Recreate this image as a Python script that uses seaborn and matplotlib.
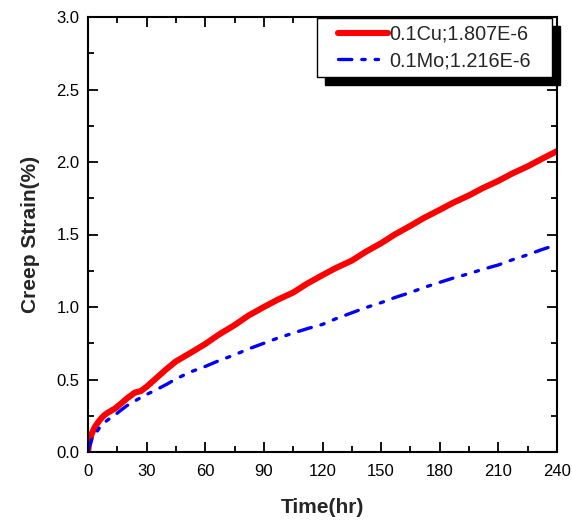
import numpy as np
import pandas as pd
import matplotlib
matplotlib.use("Agg")
import matplotlib.pyplot as plt
import seaborn as sns
from matplotlib.ticker import MultipleLocator
from matplotlib.lines import Line2D
from matplotlib.legend_handler import HandlerLine2D

cu_time = [0, 0.5, 1, 2, 3.6, 6, 8, 10, 13.8, 17, 20, 24, 27, 30, 35, 40, 45, 52, 60, 67, 75, 82, 90,
           97, 105, 112, 120, 127, 135, 142, 150, 157, 165, 172, 180, 187, 195, 202, 210, 217, 225, 232, 240]
cu_strain = [0, 0.05, 0.08, 0.13, 0.175, 0.22, 0.25, 0.27, 0.30, 0.335, 0.37, 0.41, 0.42, 0.45, 0.51, 0.57,
             0.625, 0.68, 0.745, 0.81, 0.875, 0.94, 1.0, 1.05, 1.1, 1.16, 1.22, 1.27, 1.32, 1.38, 1.44, 1.50,
             1.56, 1.615, 1.67, 1.72, 1.77, 1.82, 1.87, 1.92, 1.97, 2.02, 2.075]
mo_time = [0, 0.5, 1, 2, 3.6, 6, 8, 10, 13.8, 17, 20, 25, 29, 35, 40, 44.5, 52, 60, 67, 75, 82, 90, 97,
           105, 112, 120, 127, 135, 142, 150, 157, 165, 172, 180, 187, 195, 202, 210, 217, 225, 232, 240]
mo_strain = [0, 0.03, 0.05, 0.09, 0.12, 0.17, 0.20, 0.22, 0.255, 0.29, 0.32, 0.36, 0.39, 0.43, 0.465, 0.50,
             0.55, 0.59, 0.63, 0.67, 0.71, 0.75, 0.785, 0.82, 0.85, 0.88, 0.92, 0.96, 0.995, 1.03, 1.065,
             1.10, 1.135, 1.17, 1.20, 1.23, 1.26, 1.29, 1.325, 1.36, 1.395, 1.43]
labels = ["0.1Cu;1.807E-6", "0.1Mo;1.216E-6"]
x_ticks = [0, 30, 60, 90, 120, 150, 180, 210, 240]
y_ticks = [0.0, 0.5, 1.0, 1.5, 2.0, 2.5, 3.0]

sns.set_style("white")
plt.rcParams['font.family'] = ['Liberation Sans', 'DejaVu Sans']

df_cu = pd.DataFrame({"t": cu_time, "s": cu_strain})
df_mo = pd.DataFrame({"t": mo_time, "s": mo_strain})

fig = plt.figure(figsize=(5.72, 5.25), dpi=100)
ax = fig.add_axes([88/572, 1-452/525, (557-88)/572, (452-17)/525])

sns.lineplot(data=df_cu, x="t", y="s", ax=ax, color="#ff0000", lw=4.4, label=labels[0],
             solid_capstyle="round", sort=False)
sns.lineplot(data=df_mo, x="t", y="s", ax=ax, color="#0000ff", lw=2.4, label=labels[1],
             sort=False, dashes=False)
ax.lines[1].set_linestyle((0, (4, 3, 1, 3, 1, 3)))
ax.lines[1].set_dash_capstyle("round")

ax.set_xlim(0, 240)
ax.set_ylim(0, 3.0)
ax.set_xticks(x_ticks)
ax.set_yticks(y_ticks)
ax.set_yticklabels([f"{v:.1f}" for v in y_ticks])
ax.xaxis.set_minor_locator(MultipleLocator(15))
ax.yaxis.set_minor_locator(MultipleLocator(0.25))
ax.tick_params(which="both", direction="in", top=True, right=True, bottom=True, left=True,
               labeltop=False, labelright=False, width=1.3, colors="black")
ax.tick_params(which="major", length=7, labelsize=12)
ax.tick_params(axis="x", which="major", pad=9)
ax.tick_params(axis="y", which="major", pad=6)
ax.tick_params(which="minor", length=4)
for sp in ax.spines.values():
    sp.set_linewidth(1.5)
    sp.set_color("black")

ax.set_xlabel("Time(hr)", fontsize=15, fontweight="bold", labelpad=13)
ax.set_ylabel("Creep Strain(%)", fontsize=15, fontweight="bold", labelpad=12)

leg = ax.legend(loc="upper left",
                bbox_to_anchor=(317/572, (525-77)/525, 235/572, 59/525),
                bbox_transform=fig.transFigure, mode="expand",
                fontsize=14.3, frameon=True, fancybox=False,
                shadow={"color": "black", "alpha": 1.0, "ox": 6, "oy": -6},
                handlelength=3.2, handletextpad=0.1, borderpad=0.35, labelspacing=0.36,
                borderaxespad=0, handler_map={Line2D: HandlerLine2D(xpad=0.7)})
leg.get_frame().set_edgecolor("black")
leg.get_frame().set_linewidth(1.0)
leg.get_lines()[0].set_linewidth(4.4)

fig.savefig("out.png", dpi=100)
